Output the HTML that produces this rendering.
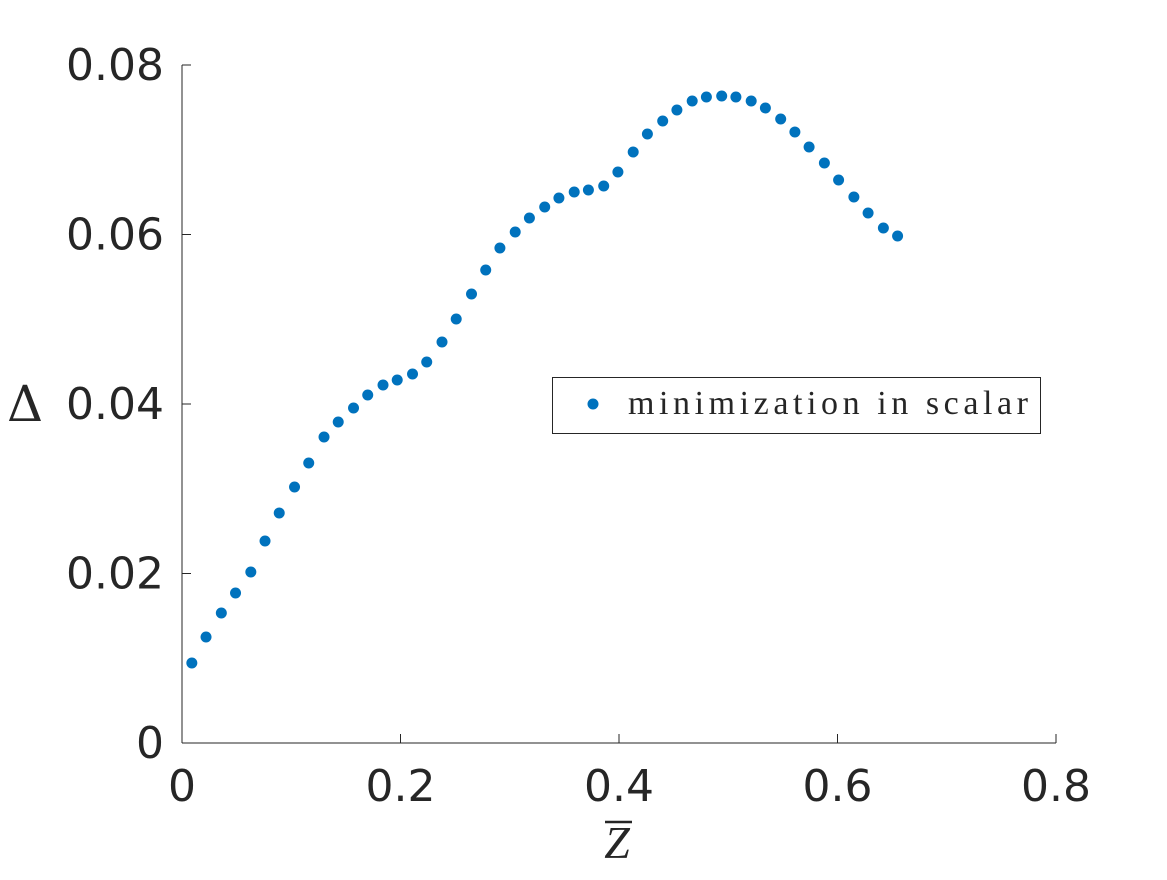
<!DOCTYPE html>
<html><head><meta charset="utf-8"><style>
body{margin:0;background:#fff;}
svg text{fill:#262626;}
</style></head><body>
<svg width="1167" height="875" viewBox="0 0 1167 875" xmlns="http://www.w3.org/2000/svg">
<g id="axes"></g>
<g id="marks"></g>
<text x="617" y="858" font-family="Liberation Serif, serif" font-style="italic" font-size="46" text-anchor="middle">Z</text>
<line x1="605" y1="822" x2="632" y2="822" stroke="#262626" stroke-width="2.5"/>
<text x="25" y="421" font-family="DejaVu Serif, serif" font-size="50" text-anchor="middle">Δ</text>
<g>
<rect x="552.5" y="377.5" width="488" height="56" fill="#fff" stroke="#262626" stroke-width="1"/>
<circle cx="593" cy="404" r="5.5" fill="#0072bd"/>
<text x="628" y="414" font-family="Liberation Serif, serif" font-size="34" textLength="400" lengthAdjust="spacing">minimization in scalar</text>
</g>
</svg>
<script>
const xTicks=[0,0.2,0.4,0.6,0.8];
const xTickLabels=["0","0.2","0.4","0.6","0.8"];
const yTicks=[0,0.02,0.04,0.06,0.08];
const yTickLabels=["0","0.02","0.04","0.06","0.08"];
const zbar=[0.009,0.022,0.036,0.049,0.063,0.076,0.089,0.103,0.116,0.130,0.143,0.157,0.170,0.184,0.197,0.211,0.224,0.238,0.251,0.265,0.278,0.291,0.305,0.318,0.332,0.345,0.359,0.372,0.386,0.399,0.413,0.426,0.440,0.453,0.467,0.480,0.494,0.507,0.521,0.534,0.548,0.561,0.574,0.588,0.601,0.615,0.628,0.642,0.655];
const delta=[0.00944,0.01251,0.01534,0.01770,0.02018,0.02383,0.02714,0.03021,0.03304,0.03611,0.03788,0.03953,0.04106,0.04224,0.04283,0.04354,0.04496,0.04732,0.05003,0.05298,0.05581,0.05841,0.06030,0.06195,0.06324,0.06431,0.06501,0.06525,0.06572,0.06737,0.06973,0.07186,0.07339,0.07469,0.07575,0.07622,0.07634,0.07622,0.07575,0.07493,0.07363,0.07209,0.07032,0.06844,0.06643,0.06442,0.06254,0.06077,0.05982];
const NS="http://www.w3.org/2000/svg";
const X0=182,X1=1056,Y0=743,Y1=65;
const sx=v=>X0+(v-0)/(0.8-0)*(X1-X0);
const sy=v=>Y0-(v-0)/(0.08-0)*(Y0-Y1);
const axes=document.getElementById('axes'),marks=document.getElementById('marks');
function mk(tag,attrs,parent){const e=document.createElementNS(NS,tag);for(const k in attrs)e.setAttribute(k,attrs[k]);parent.appendChild(e);return e;}
let e=mk('line',{x1:X0,y1:Y0,x2:X1,y2:Y0,stroke:'#262626','stroke-width':1},axes);


e=mk('line',{x1:X0,y1:Y0,x2:X0,y2:Y1,stroke:'#262626','stroke-width':1},axes);


xTicks.forEach((t,i)=>{
 const x=sx(t);
 let l=mk('line',{x1:x,y1:Y0,x2:x,y2:Y0-9,stroke:'#262626','stroke-width':1},axes);
 
 
 let tx=mk('text',{x:x,y:801,'font-family':'DejaVu Sans, sans-serif','font-size':44,'text-anchor':'middle'},axes);
 tx.textContent=xTickLabels[i];
 
 
});
yTicks.forEach((t,i)=>{
 const y=sy(t);
 let l=mk('line',{x1:X0,y1:y,x2:X0+9,y2:y,stroke:'#262626','stroke-width':1},axes);
 
 
 let tx=mk('text',{x:164,y:y+15,'font-family':'DejaVu Sans, sans-serif','font-size':44,'text-anchor':'end'},axes);
 tx.textContent=yTickLabels[i];
 
 
});
zbar.forEach((z,i)=>{
 const c=mk('circle',{cx:sx(z),cy:sy(delta[i]),r:5.5,fill:'#0072bd'},marks);
 
 
});
</script>
</body></html>
